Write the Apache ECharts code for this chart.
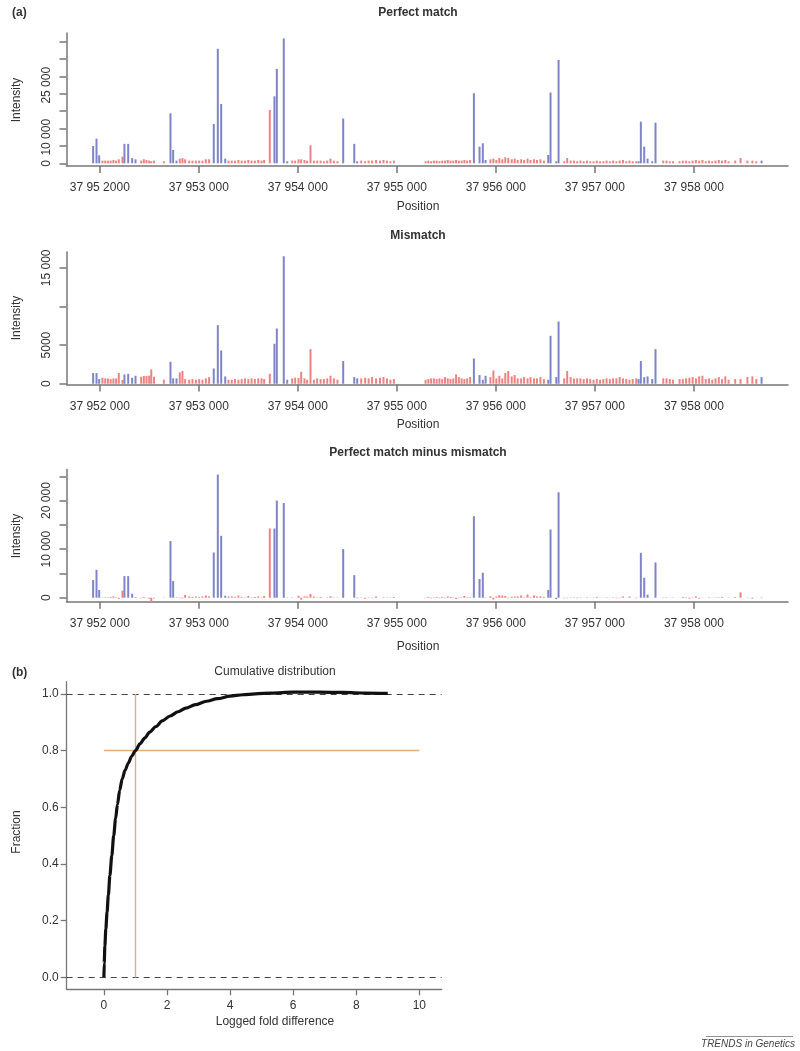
<!DOCTYPE html>
<html><head><meta charset="utf-8">
<script src="https://cdn.jsdelivr.net/npm/echarts@6/dist/echarts.min.js"></script>
<style>html,body{margin:0;padding:0;background:#fff}#c{width:800px;height:1051px}</style>
</head><body><div id="c"></div>
<script>
// ---------- DATA ----------
const positions = [
37951933,37951967,37951994,37952027,37952055,37952082,37952110,37952138,37952165,37952192,
37952229,37952249,37952287,37952327,37952361,37952418,37952445,37952472,37952499,37952520,
37952548,37952647,37952714,37952741,37952775,37952808,37952835,37952862,37952903,37952936,
37952970,37953004,37953037,37953071,37953104,37953151,37953192,37953226,37953267,37953300,
37953333,37953366,37953400,37953433,37953466,37953500,37953533,37953566,37953600,37953633,
37953660,37953717,37953764,37953788,37953858,37953893,37953943,37953973,37954007,37954034,
37954067,37954094,37954128,37954162,37954195,37954230,37954263,37954297,37954330,37954364,
37954400,37954458,37954570,37954600,37954640,37954680,37954715,37954750,37954790,37954830,
37954865,37954900,37954935,37954970,37955290,37955318,37955346,37955374,37955402,37955430,
37955458,37955486,37955514,37955542,37955570,37955598,37955626,37955654,37955682,37955710,
37955740,37955778,37955835,37955868,37955896,37955945,37955975,37956005,37956035,37956065,
37956095,37956125,37956160,37956190,37956220,37956255,37956285,37956320,37956350,37956385,
37956415,37956450,37956485,37956529,37956552,37956610,37956633,37956690,37956720,37956755,
37956788,37956821,37956854,37956887,37956920,37956953,37956986,37957019,37957052,37957085,
37957118,37957151,37957184,37957217,37957250,37957283,37957316,37957349,37957382,37957417,
37957441,37957464,37957498,37957532,37957579,37957612,37957690,37957723,37957756,37957789,
37957855,37957888,37957921,37957954,37957987,37958020,37958053,37958086,37958119,37958152,
37958185,37958218,37958251,37958284,37958317,37958350,37958417,37958471,37958540,37958590,
37958630,37958683];

const probeClass = (
"BBBRRRRRRR"+"RBBBBRRRRR"+"RRBBBRRRRR"+"RRRRRBBBBR"+"RRRRRRRRRR"+
"RRBBBBRRRR"+"RRRRRRRRRR"+"RBBBRRRRRR"+"RRRRRRRRRR"+"RRRRRRRRRR"+
"RBBBBRRRRR"+"RRRRRRRRRR"+"RRRBBBBRRR"+"RRRRRRRRRR"+"RRRRRRRRRR"+
"BBBBBBRRRR"+"RRRRRRRRRR"+"RRRRRRRRRR"+"RB").split('');

const pmIntensity = [
5000,7100,2300,770,770,770,770,960,770,1150,
1900,5600,5600,1500,1150,770,1150,960,770,600,
770,580,14400,3850,770,1350,1500,1150,770,770,
770,770,770,1150,1150,11350,33000,17100,1350,770,
770,770,960,770,770,960,770,770,960,770,
960,15400,19300,27200,36000,580,770,770,1150,1150,
960,770,5200,770,770,770,580,770,1350,770,
580,12900,5600,580,770,580,770,770,960,770,
960,770,580,770,580,770,580,770,770,580,
770,770,960,770,770,960,770,770,960,770,
960,20200,4800,5770,960,1150,1350,960,1540,1150,
1730,1540,1150,1350,960,1150,960,1350,960,1150,
960,1150,770,2400,20400,580,29800,580,1540,770,
770,580,770,580,770,580,580,770,580,580,
770,580,770,580,770,960,580,770,580,580,
580,12000,4800,1350,580,11700,770,770,580,580,
580,770,770,580,770,960,770,960,580,770,
580,770,960,770,960,580,770,1540,770,770,
580,770];

const mmIntensity = [
1380,1380,600,775,690,690,600,690,690,1380,
480,1200,1290,775,1030,900,1000,1000,1050,1850,
900,520,2840,690,690,1460,1640,600,520,600,
520,600,520,690,860,1980,7580,4300,950,520,
520,600,520,600,690,600,690,600,690,690,
600,1290,5170,7150,16500,520,690,775,750,1550,
690,520,4480,520,690,600,600,690,1030,690,
520,2930,860,690,690,775,690,860,690,775,
860,690,520,600,520,600,690,690,600,690,
600,860,690,600,690,1200,860,690,600,690,
860,3270,1120,520,1030,860,1720,690,1030,690,
1380,1640,950,1120,690,690,860,690,860,690,
690,860,600,520,6200,860,8050,690,1640,860,
690,690,690,600,690,600,520,600,520,600,
690,600,690,690,860,690,600,520,600,690,
600,2930,860,950,600,4480,690,690,600,520,
600,600,690,775,860,690,950,1030,600,690,
520,690,860,600,950,520,600,600,860,950,
600,860];

const diffIntensity = [
3630,5750,1575,50,80,80,170,270,80,-230,
1440,4450,4450,820,120,-130,150,-40,-200,-1250,
-130,60,11650,3425,80,-110,-140,550,250,170,
250,170,250,460,290,9300,25350,12740,400,250,
250,170,440,170,80,360,80,170,270,80,
360,14250,14250,20000,19500,60,80,0,400,-400,
270,250,750,250,80,170,0,80,300,80,
60,10000,4650,-100,80,-200,80,-90,270,0,
100,80,60,170,60,170,-110,80,170,-110,
170,-90,270,170,80,-240,-90,80,360,80,
100,16780,3840,5140,-70,290,-370,270,510,460,
350,-100,200,230,270,460,100,660,100,460,
270,290,170,1575,14040,-280,21700,-110,-100,-90,
80,-110,80,-20,80,-20,60,170,60,-20,
80,-20,80,-110,-90,270,-20,250,-20,-110,
-20,9250,4110,620,0,7260,80,80,-20,60,
-20,170,80,-200,-90,270,-180,-70,-20,80,
60,80,100,170,10,60,170,1100,-90,-180,
-20,-90];

const positionTicks = [37952000,37953000,37954000,37955000,37956000,37957000,37958000];
const positionTickLabelsPM = ['37 95 2000','37 953 000','37 954 000','37 955 000','37 956 000','37 957 000','37 958 000'];
const positionTickLabels = ['37 952 000','37 953 000','37 954 000','37 955 000','37 956 000','37 957 000','37 958 000'];

const pmYTicks = [0,5000,10000,15000,20000,25000,30000,35000];
const pmYLabelAt = [0,7500,22500];
const pmYLabels = ['0','10 000','25 000'];
const mmYTicks = [0,5000,10000,15000];
const mmYLabelAt = [0,5000,15000];
const mmYLabels = ['0','5000','15 000'];
const diffYTicks = [0,5000,10000,15000,20000,25000];
const diffYLabelAt = [0,10000,20000];
const diffYLabels = ['0','10 000','20 000'];

const cdfFold = [0,0.01,0.03,0.06,0.1,0.14,0.19,0.25,0.31,0.37,0.43,0.5,0.58,0.67,0.77,0.88,1.0,1.15,1.3,1.45,1.65,1.85,2.1,2.35,2.6,2.9,3.25,3.6,4.0,4.4,4.8,5.3,6.0,6.8,7.6,8.3,9.0];
const cdfFraction = [0,0.05,0.11,0.17,0.23,0.29,0.36,0.43,0.5,0.56,0.61,0.66,0.7,0.73,0.755,0.78,0.8,0.825,0.845,0.865,0.885,0.905,0.922,0.937,0.95,0.962,0.974,0.983,0.992,0.997,1.0,1.003,1.006,1.006,1.005,1.003,1.002];
const foldTicks = [0,2,4,6,8,10];
const fractionTicks = [0,0.2,0.4,0.6,0.8,1.0];
const fractionLabels = ['0.0','0.2','0.4','0.6','0.8','1.0'];
const boundLevels = [0,1];
const refFraction = 0.8;
const refFoldRange = [0,10];
const refFold = 1;

// ---------- CHART ----------
const FONT = '"Liberation Sans", Arial, Helvetica, sans-serif';
const AX = '#777';
const TXT = '#333';
const BLUE = '#7f84c9';
const RED = '#ee8282';

const chart = echarts.init(document.getElementById('c'), null, {renderer:'canvas'});

function pick(values, cls){
  const out=[];
  for(let i=0;i<positions.length;i++) if(probeClass[i]===cls) out.push([positions[i], values[i]]);
  return out;
}

const panels = [
  {top:33, height:133, ymin:-780, ymax:37550, yt:pmYTicks, ylv:pmYLabelAt, yl:pmYLabels, xl:positionTickLabelsPM, vals:pmIntensity},
  {top:252, height:132.5, ymin:-100, ymax:17050, yt:mmYTicks, ylv:mmYLabelAt, yl:mmYLabels, xl:positionTickLabels, vals:mmIntensity},
  {top:469.5, height:132.2, ymin:-820, ymax:26390, yt:diffYTicks, ylv:diffYLabelAt, yl:diffYLabels, xl:positionTickLabels, vals:diffIntensity}
];

const grids=[], xAxes=[], yAxes=[], series=[];
panels.forEach((p,i)=>{
  grids.push({left:66.5, width:721.5, top:p.top, height:p.height});
  xAxes.push({
    gridIndex:i, type:'value', min:37951664, max:37958950,
    axisLine:{show:true, onZero:false, lineStyle:{color:AX, width:1.5}},
    axisTick:{show:true, customValues:positionTicks, length:7, lineStyle:{color:AX, width:1.5}},
    axisLabel:{customValues:positionTicks, margin:16, color:TXT, fontSize:12, fontFamily:FONT,
      formatter:(v)=>p.xl[positionTicks.indexOf(v)]},
    splitLine:{show:false}
  });
  yAxes.push({
    gridIndex:i, type:'value', min:p.ymin, max:p.ymax,
    axisLine:{show:true, onZero:false, lineStyle:{color:AX, width:1.5}},
    axisTick:{show:true, customValues:p.yt, length:7, lineStyle:{color:AX, width:1.5}},
    axisLabel:{customValues:p.ylv, rotate:90, margin:14, color:TXT, fontSize:12, fontFamily:FONT,
      formatter:(v)=>p.yl[p.ylv.indexOf(v)]},
    splitLine:{show:false}
  });
  series.push({type:'bar', xAxisIndex:i, yAxisIndex:i, data:pick(p.vals,'R'), barWidth:2, barGap:'-100%',
    itemStyle:{color:RED}, silent:true});
  series.push({type:'bar', xAxisIndex:i, yAxisIndex:i, data:pick(p.vals,'B'), barWidth:2, barGap:'-100%',
    itemStyle:{color:BLUE}, silent:true});
});

// panel (b)
grids.push({left:66.7, width:375, top:681.7, height:307.6});
xAxes.push({
  gridIndex:3, type:'value', min:-1.18, max:10.71,
  axisLine:{show:true, onZero:false, lineStyle:{color:AX, width:1.3}},
  axisTick:{show:true, customValues:foldTicks, length:6, lineStyle:{color:AX, width:1.3}},
  axisLabel:{customValues:foldTicks, margin:10, color:TXT, fontSize:12, fontFamily:FONT},
  splitLine:{show:false}
});
yAxes.push({
  gridIndex:3, type:'value', min:-0.042, max:1.043,
  axisLine:{show:true, onZero:false, lineStyle:{color:AX, width:1.3}},
  axisTick:{show:true, customValues:fractionTicks, length:6, lineStyle:{color:AX, width:1.3}},
  axisLabel:{customValues:fractionTicks, margin:8, color:TXT, fontSize:12, fontFamily:FONT,
    formatter:(v)=>fractionLabels[fractionTicks.findIndex(t=>Math.abs(t-v)<1e-9)]},
  splitLine:{show:false}
});
series.push({
  type:'line', xAxisIndex:3, yAxisIndex:3, z:10, showSymbol:false, smooth:0.3, smoothMonotone:'x',
  data:cdfFold.map((x,i)=>[x, cdfFraction[i]]),
  lineStyle:{color:'#111', width:3.2}, silent:true,
  markLine:{
    silent:true, symbol:['none','none'], label:{show:false}, animation:false,
    data:[
      {yAxis:boundLevels[0], lineStyle:{color:'#444', type:[6,5], width:1}},
      {yAxis:boundLevels[1], lineStyle:{color:'#444', type:[6,5], width:1}},
      [{coord:[refFoldRange[0], refFraction], lineStyle:{color:'#dfb070', type:'solid', width:1.4}},
       {coord:[refFoldRange[1], refFraction]}],
      [{coord:[refFold, boundLevels[0]], lineStyle:{color:'#dcaa9a', type:'solid', width:1.4}},
       {coord:[refFold, boundLevels[1]]}]
    ]
  }
});

function txt(x,y,text,opt){
  opt=opt||{};
  return {type:'text', x:x, y:y, rotation:opt.rot||0, silent:true,
    style:{text:text, fill:opt.fill||TXT, align:opt.align||'center', verticalAlign:'middle',
      font:(opt.style||'')+' '+(opt.weight||'normal')+' '+(opt.size||12)+'px '+FONT}};
}

const graphics = [
  txt(12,13,'(a)',{weight:'bold', align:'left'}),
  txt(418,13,'Perfect match',{weight:'bold'}),
  txt(418,207,'Position'),
  txt(17,100,'Intensity',{rot:Math.PI/2}),
  txt(418,236,'Mismatch',{weight:'bold'}),
  txt(418,425,'Position'),
  txt(17,318,'Intensity',{rot:Math.PI/2}),
  txt(418,453,'Perfect match minus mismatch',{weight:'bold'}),
  txt(418,647,'Position'),
  txt(17,536,'Intensity',{rot:Math.PI/2}),
  txt(12,673,'(b)',{weight:'bold', align:'left'}),
  txt(275,672,'Cumulative distribution'),
  txt(17,832,'Fraction',{rot:Math.PI/2}),
  txt(275,1022,'Logged fold difference'),
  txt(748,1044,'TRENDS in Genetics',{style:'italic', size:10, fill:'#444'}),
  {type:'line', silent:true, shape:{x1:706, y1:1036.5, x2:793, y2:1036.5}, style:{stroke:'#777', lineWidth:0.8}}
];

chart.setOption({
  animation:false,
  backgroundColor:'#fff',
  grid:grids, xAxis:xAxes, yAxis:yAxes, series:series,
  graphic:graphics
});
</script></body></html>
